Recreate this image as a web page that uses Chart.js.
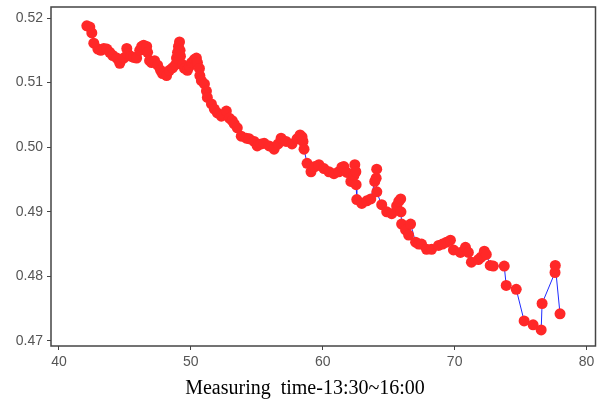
<!DOCTYPE html>
<html>
<head>
<meta charset="utf-8">
<script src="https://cdn.jsdelivr.net/npm/chart.js@4"></script>
<style>
  body { margin: 0; background: #fff; }
  #wrap { width: 601px; height: 405px; }
</style>
</head>
<body>
<div id="wrap"><canvas id="scatter-chart"></canvas></div>
<script>
var timeVals = [42.11, 42.34, 42.49, 42.64, 42.95, 43.17, 43.40, 43.63, 43.85, 44.08,
    44.38, 44.61, 44.91, 45.14, 45.21, 45.44, 45.66, 45.89, 46.12, 46.27,
    46.42, 46.65, 46.72, 46.87, 47.02, 47.25, 47.48, 47.70, 47.85, 48.16,
    48.38, 48.61, 48.84, 48.91, 48.99, 49.06, 49.14, 49.18, 49.21, 49.37,
    49.52, 49.74, 49.89, 50.05, 50.27, 50.42, 50.50, 50.65, 50.68, 50.80,
    51.03, 51.18, 51.25, 51.56, 51.78, 52.01, 52.31, 52.69, 52.92, 53.14,
    53.29, 53.52, 53.82, 54.20, 54.43, 54.80, 55.03, 55.33, 55.56, 55.94,
    56.31, 56.62, 56.84, 57.22, 57.67, 58.05, 58.28, 58.43, 58.50, 58.58,
    58.81, 59.11, 59.41, 59.71, 60.09, 60.47, 60.85, 61.22, 61.45, 61.60,
    61.83, 62.13, 62.36, 62.43, 62.51, 62.53, 62.58, 62.96, 63.34, 63.64,
    63.94, 64.09, 64.05, 64.10, 64.47, 64.85, 65.23, 65.60, 65.76, 65.91,
    65.93, 65.98, 66.28, 66.51, 66.66, 67.04, 67.27, 67.49, 67.87, 68.25,
    68.78, 69.08, 69.38, 69.68, 69.91, 70.44, 70.82, 71.04, 71.27, 71.80,
    72.02, 72.25, 72.40, 72.70, 72.93, 73.76, 73.91, 74.67, 75.27, 75.95,
    76.56, 76.63, 77.61, 77.63, 77.99];

var ratioVals = [0.5188, 0.5186, 0.5177, 0.5161, 0.5152, 0.5150, 0.5153, 0.5152, 0.5147, 0.5142,
    0.5138, 0.5130, 0.5138, 0.5153, 0.5145, 0.5141, 0.5139, 0.5138, 0.5150, 0.5156,
    0.5158, 0.5156, 0.5147, 0.5134, 0.5131, 0.5134, 0.5127, 0.5119, 0.5114, 0.5111,
    0.5119, 0.5123, 0.5128, 0.5138, 0.5147, 0.5156, 0.5163, 0.5150, 0.5141, 0.5128,
    0.5122, 0.5119, 0.5125, 0.5131, 0.5136, 0.5138, 0.5131, 0.5122, 0.5111, 0.5103,
    0.5098, 0.5087, 0.5077, 0.5067, 0.5059, 0.5053, 0.5048, 0.5056, 0.5045, 0.5041,
    0.5036, 0.5030, 0.5017, 0.5014, 0.5013, 0.5009, 0.5002, 0.5005, 0.5006, 0.5002,
    0.4997, 0.5005, 0.5014, 0.5009, 0.5005, 0.5013, 0.5019, 0.5016, 0.5009, 0.4997,
    0.4975, 0.4962, 0.4970, 0.4973, 0.4967, 0.4962, 0.4959, 0.4962, 0.4969, 0.4970,
    0.4961, 0.4947, 0.4956, 0.4973, 0.4962, 0.4942, 0.4919, 0.4913, 0.4917, 0.4920,
    0.4947, 0.4966, 0.4952, 0.4931, 0.4911, 0.4900, 0.4897, 0.4909, 0.4916, 0.4920,
    0.4900, 0.4881, 0.4872, 0.4864, 0.4881, 0.4853, 0.4850, 0.4850, 0.4842, 0.4842,
    0.4848, 0.4850, 0.4853, 0.4856, 0.4841, 0.4837, 0.4845, 0.4837, 0.4822, 0.4826,
    0.4830, 0.4839, 0.4834, 0.4817, 0.4816, 0.4816, 0.4786, 0.4780, 0.4731, 0.4725,
    0.4717, 0.4758, 0.4806, 0.4817, 0.4742];

var xTicks = [40, 50, 60, 70, 80];
var yTicks = [0.47, 0.48, 0.49, 0.50, 0.51, 0.52];

var points = [];
for (var i = 0; i < timeVals.length; i++) {
    points.push({ x: timeVals[i], y: ratioVals[i] });
}

// box round the plot area (top and right sides too)
var frame = {
    id: 'frame',
    afterDraw: function(chart) {
        var a = chart.chartArea, ctx = chart.ctx;
        ctx.save();
        ctx.strokeStyle = '#444';
        ctx.lineWidth = 1.5;
        ctx.strokeRect(a.left, a.top, a.right - a.left, a.bottom - a.top);
        ctx.restore();
    }
};

var tickFont = { family: 'Liberation Sans, Arial, sans-serif', size: 14 };

new Chart(document.getElementById('scatter-chart'), {
    type: 'scatter',
    data: {
        datasets: [{
            data: points,
            showLine: true,
            borderColor: '#1f2bff',
            borderWidth: 1,
            pointRadius: 5.5,
            pointHoverRadius: 5.5,
            pointBackgroundColor: '#ff2828',
            pointBorderWidth: 0
        }]
    },
    options: {
        responsive: true,
        maintainAspectRatio: false,
        animation: false,
        layout: { padding: { left: 12, right: 3, top: 7, bottom: 0 } },
        scales: {
            x: {
                type: 'linear',
                min: 39.395,
                max: 80.68,
                afterBuildTicks: function(s) { s.ticks = xTicks.map(function(v) { return { value: v }; }); },
                afterFit: function(s) { s.height = 27; s.paddingLeft = 0; s.paddingRight = 0; },
                grid: { drawOnChartArea: false, drawTicks: true, tickLength: 4, color: '#444', lineWidth: 1 },
                border: { display: false },
                ticks: { font: tickFont, color: '#555', padding: 4, maxRotation: 0 }
            },
            y: {
                min: 0.46922,
                max: 0.52171,
                afterBuildTicks: function(s) { s.ticks = yTicks.map(function(v) { return { value: v }; }); },
                afterFit: function(s) { s.width = 39; s.paddingTop = 0; s.paddingBottom = 0; },
                grid: { drawOnChartArea: false, drawTicks: true, tickLength: 4, color: '#444', lineWidth: 1 },
                border: { display: false },
                ticks: {
                    font: tickFont, color: '#555', padding: 4,
                    callback: function(v) { return v.toFixed(2); }
                }
            }
        },
        plugins: {
            legend: { display: false },
            tooltip: { enabled: false },
            title: {
                display: true,
                position: 'bottom',
                text: 'Measuring  time-13:30~16:00',
                color: '#000',
                font: { family: 'Liberation Serif, Times New Roman, serif', size: 20, weight: 'normal' },
                padding: { top: 4, bottom: 4 }
            }
        }
    },
    plugins: [frame]
});
</script>
</body>
</html>
